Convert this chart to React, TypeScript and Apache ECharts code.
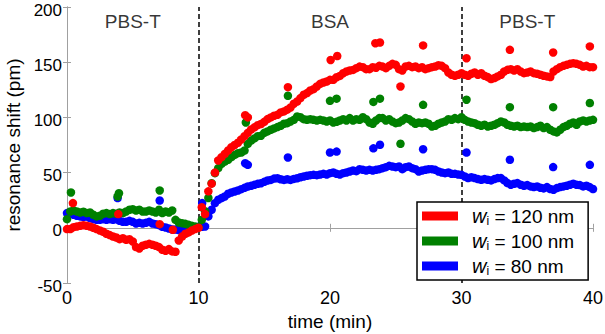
import React, { useEffect, useRef } from "react";
import * as echarts from "echarts";

// Sampling interval of the measurement (minutes)
const SAMPLE_INTERVAL_MIN = 0.25;

// Main measured traces (pm), one value every SAMPLE_INTERVAL_MIN starting at t = 0
const RED_SHIFT = [
  -1.2, -1.2, 0.6, 1.2, 1.8, 2.4, 1.8, 1.2, 0, -1.2, -2.4, -3.6, -5.4, -6.6, -7.9, -8.8, -10.3, -9.4, -10.9, -10.3,
  -12.4, -17.5, -18.7, -16.3, -15.4, -14.5, -15.4, -16.3, -17.5, -19.9, -20.8, -19.3, -21.4, -21.7, -11.5, -7.9, -5.4, -4.2, -2.4, -1.2, 0,
  18.7, 12.4, 33, 40, 50, 61, 64, 67, 70, 73, 75, 77, 80, 83, 86, 89, 91, 93, 94, 96,
  98.5, 100, 101.5, 102.3, 104.5, 105.4, 107, 109, 112.4, 114.4, 117.5, 120.5, 122, 124.4, 125.6, 128, 130.4, 131.6, 132.5, 134,
  134, 136.4, 137.6, 140, 141.6, 142.5, 143, 144.6, 146, 145.5, 143.7, 143.7, 145.5, 145, 146.7, 146,
  144.6, 146.7, 148.5, 147.6, 143.7, 142.5, 146.1, 146.7, 145.5, 146.1, 144.6, 145.5, 143.7, 144.6, 145.5, 146.1,
  147.3, 146.7, 144.6, 140.7, 138.6, 137.7, 138.6, 140.1, 138.6, 137.7, 139.5, 140.7, 138.6, 140.1, 137.7, 136.5,
  134.7, 135.6, 137.1, 138.6, 141.6, 143.1, 143.7, 142.5, 143.7, 141.6, 140.1, 140.7, 141.6, 140.1, 139.5, 138.6,
  137.7, 137.1, 136.5, 141.6, 143.7, 145.5, 146.7, 147.6, 148.5, 149.1, 148.5, 147.6, 146.1, 146.7, 145.5, 145.5,
];

const GREEN_SHIFT = [
  7.8, 14.8, 15.7, 14.8, 13.9, 14.5, 13.3, 13.9, 11.8, 10.3, 10.9, 12.7, 13.3, 12.4, 13.3, 12.7, 13.9, 13.3, 14.8, 16.3,
  16.9, 15.7, 16.3, 14.8, 14.8, 15.7, 14.8, 13.9, 16.3, 13.3, 14.8, 13.9, 15.7, 7.2, 4.8, 4.2, 3.6, 2.7, 1.8, 1.2, 0.6,
  7.2, 15, 27, 40.4, 49.5, 54, 57.9, 60, 61.6, 64, 66, 67.6, 68.2, 70, 76, 79, 81, 83, 83.4, 86,
  87.3, 88.8, 90, 91.2, 92.4, 94.2, 94.8, 96.3, 97.8, 100.8, 100.2, 98.4, 97.8, 98.4, 97.8, 97.2, 97.8, 97.2, 96.3, 97.2,
  95.4, 96, 97.2, 98.4, 97.2, 99.4, 97.2, 98.4, 97.8, 100.2, 98.4, 95.4, 94.2, 97.2, 99.4, 99.4,
  97.2, 98.4, 96.3, 94.8, 95.4, 97.2, 99.4, 98.4, 96.3, 94.2, 95.4, 94.8, 95.4, 94.2, 91.8, 92.4,
  94.2, 95.4, 96.3, 98.4, 97.8, 99.4, 98.4, 100.2, 97.8, 96.3, 95.4, 94.8, 93.3, 92.4, 93.3, 91.8,
  92.4, 93.3, 94.8, 96.3, 95.4, 93.3, 92.4, 91.8, 92.4, 91.2, 91.8, 91.2, 91.8, 90.3, 91.2, 92.4,
  90.3, 91.2, 88.8, 87.3, 86.4, 88.8, 91.2, 92.4, 94.2, 95.4, 93.3, 96.3, 97.2, 96.3, 97.2, 97.8,
];

const BLUE_SHIFT = [
  13.3, 13.9, 11.8, 10.9, 10.3, 9.7, 10.3, 8.8, 7.8, 7.2, 7.2, 7.8, 7.2, 7.8, 7.2, 7.8, 6.3, 5.4, 5.4, 6.3,
  5.4, 3.9, 4.5, 3.9, 4.5, 5.4, 3.9, 3.3, 2.4, 0.9, 0.3, -0.6, -1.5, -1.5, -2.1, -1.5, -2.1, -0.9, -0.6, 0.3, 0.9,
  1.0, 1.2, 10.3, 16.3, 22.3, 25.4, 26.9, 28.4, 30.8, 32, 32.9, 33.8, 35, 36.2, 37.4, 38, 38.9, 39.8, 40.4, 41.6,
  42.8, 43.4, 44.6, 44.9, 44, 43.4, 44, 43.4, 44.3, 44.9, 45.8, 46.5, 47.1, 47.7, 48, 47.7, 48.3, 48.9, 48.3, 49.5,
  50.1, 48.9, 48.3, 49.5, 50.1, 51, 51.9, 51.3, 53.1, 52.5, 51.9, 52.5, 51.9, 52.5, 53.1, 54,
  54.9, 56.1, 55.5, 54.9, 55.5, 53.1, 54.9, 55.5, 54, 53.1, 51, 51.9, 52.5, 53.1, 53.1, 52.5,
  51, 50.1, 49.5, 50.1, 48.9, 48.9, 48.3, 48, 46.5, 45, 45.9, 45, 44.1, 43.5, 44.1, 43.5,
  42.9, 44.1, 45, 45, 42.9, 40.5, 39, 39.9, 40.5, 39, 38.1, 38.7, 37.5, 36.9, 37.5, 36.3,
  35.7, 36.9, 35.1, 34.5, 36, 36.9, 37.5, 38.1, 39, 39.9, 39, 38.7, 37.5, 38.1, 36.9, 35.1,
];

// Periodic outlier readings [time (min), shift (pm)]
const RED_SPIKES = [
  [0.45, 22.4], [3.9, 12.4], [7.05, 3.3], [8.05, -1.8], [13.55, 102], [13.75, 100], [16.8, 127.4],
  [20.05, 152], [20.55, 155.6], [23.45, 167.2], [23.8, 167.8], [25.36, 128], [27.08, 165.2],
  [30.38, 153.6], [33.68, 161.2], [36.97, 158.8], [39.76, 164.3],
];
const GREEN_SPIKES = [
  [0.3, 32], [3.85, 28.4], [3.95, 31.4], [7.05, 33.8], [13.6, 95.4], [16.8, 119.6], [20.0, 115],
  [20.5, 117], [23.3, 114], [23.8, 117], [25.36, 76.1], [27.08, 111.4], [30.38, 116], [33.68, 109.3],
  [36.97, 109.3], [39.76, 113],
];
const BLUE_SPIKES = [
  [3.85, 26.9], [7.05, 24.7], [10.28, 22.4], [13.55, 58.5], [13.75, 57], [16.8, 63.7], [20.0, 68.2],
  [20.5, 69], [23.3, 72], [23.8, 75.2], [27.08, 71.2], [30.38, 68.2], [33.68, 61.6], [36.97, 55], [39.76, 57],
];

const SERIES_NAMES = ["w_i = 120 nm", "w_i = 100 nm", "w_i = 80 nm"];
const SERIES_LABELS = ["120 nm", "100 nm", "80 nm"];
const SERIES_COLORS = ["#ff0000", "#008000", "#0000ff"];

const PHASE_LABELS = ["PBS-T", "BSA", "PBS-T"];
const PHASE_CENTERS = [5, 20, 35];
const PHASE_LABEL_LEVEL = 187;
const PHASE_BOUNDARIES = [10, 30];

const X_TICKS = { min: 0, max: 40, interval: 10 };
const Y_TICKS = { min: -50, max: 200, interval: 50 };

function buildPoints(values: number[], spikes: number[][]) {
  const pts = values.map((v, i) => [i * SAMPLE_INTERVAL_MIN, v]);
  return pts.concat(spikes);
}

const FONT = "Liberation Sans";
const FRAME = "#a0a0a0";

export default function App() {
  const ref = useRef<HTMLDivElement>(null);
  useEffect(() => {
    document.body.style.margin = "0";
    if (!ref.current) return;
    const chart = echarts.init(ref.current, undefined, { renderer: "svg" });
    const datasets = [
      buildPoints(RED_SHIFT, RED_SPIKES),
      buildPoints(GREEN_SHIFT, GREEN_SPIKES),
      buildPoints(BLUE_SHIFT, BLUE_SPIKES),
    ];
    const scatter = (idx: number) => ({
      type: "scatter",
      name: SERIES_NAMES[idx],
      data: datasets[idx],
      symbolSize: 8.5,
      itemStyle: { color: SERIES_COLORS[idx], opacity: 1 },
      z: 10 - idx,
      clip: true,
    });
    const axisCommon = {
      axisLine: { show: true, lineStyle: { color: FRAME, width: 1 } },
      axisTick: { show: true, inside: true, length: 4, lineStyle: { color: FRAME } },
      splitLine: { show: false },
    };
    chart.setOption({
      animation: false,
      backgroundColor: "#fff",
      textStyle: { fontFamily: FONT },
      grid: { left: 67, right: 12, top: 7, bottom: 51, containLabel: false, outerBoundsMode: "none" },
      legend: {
        data: SERIES_NAMES,
        orient: "vertical",
        left: 417,
        top: 202,
        icon: "rect",
        itemWidth: 36,
        itemHeight: 9,
        itemGap: 3,
        padding: [3, 14, 3, 5],
        borderColor: "#000",
        borderWidth: 1.5,
        backgroundColor: "#fff",
        borderRadius: 0,
        z: 20,
        formatter: (name: string) => {
          const i = SERIES_NAMES.indexOf(name);
          return `{w|w}{i|i}{t| = ${SERIES_LABELS[i]}}`;
        },
        textStyle: {
          fontFamily: FONT,
          color: "#000",
          padding: [0, 0, 0, 9],
          rich: {
            w: { fontSize: 20, fontStyle: "italic", fontFamily: FONT, lineHeight: 22 },
            i: { fontSize: 12, fontFamily: FONT, lineHeight: 22, padding: [10, 0, 0, 0] },
            t: { fontSize: 19, fontFamily: FONT, lineHeight: 22 },
          },
        },
      },
      xAxis: [
        {
          type: "value",
          ...X_TICKS,
          ...axisCommon,
          name: "time (min)",
          nameLocation: "middle",
          nameGap: 24,
          nameTextStyle: { fontSize: 19, color: "#000", fontFamily: FONT },
          axisLabel: { fontSize: 18, color: "#000", margin: 6, fontFamily: FONT },
        },
        {
          type: "value",
          position: "top",
          ...X_TICKS,
          ...axisCommon,
          axisLabel: { show: false },
        },
      ],
      yAxis: [
        {
          type: "value",
          ...Y_TICKS,
          ...axisCommon,
          name: "resonance shift (pm)",
          nameLocation: "middle",
          nameGap: 42,
          nameTextStyle: { fontSize: 19, color: "#000", fontFamily: FONT },
          axisLabel: {
            color: "#000",
            margin: 5,
            fontFamily: FONT,
            formatter: (v: number) => `{l|${v}}`,
            rich: {
              l: { fontSize: 17, fontFamily: FONT, color: "#000", lineHeight: 18, padding: [6, 0, 0, 0] },
            },
          },
        },
        {
          type: "value",
          position: "right",
          ...Y_TICKS,
          ...axisCommon,
          axisLabel: { show: false },
        },
      ],
      series: [
        scatter(2),
        scatter(1),
        scatter(0),
        {
          type: "scatter",
          name: "phases",
          data: PHASE_CENTERS.map((t, i) => ({ value: [t, PHASE_LABEL_LEVEL], name: PHASE_LABELS[i] })),
          symbolSize: 0,
          silent: true,
          z: 15,
          label: {
            show: true,
            position: "inside",
            formatter: (p: any) => p.name,
            fontSize: 19,
            color: "#000",
            fontFamily: FONT,
          },
          markLine: {
            silent: true,
            symbol: ["none", "none"],
            label: { show: false },
            lineStyle: { type: [5, 3], color: "#000", width: 1.5 },
            data: PHASE_BOUNDARIES.map((t) => ({ xAxis: t })),
          },
        },
      ],
    });
    return () => chart.dispose();
  }, []);
  return <div ref={ref} style={{ width: 605, height: 334 }} />;
}
